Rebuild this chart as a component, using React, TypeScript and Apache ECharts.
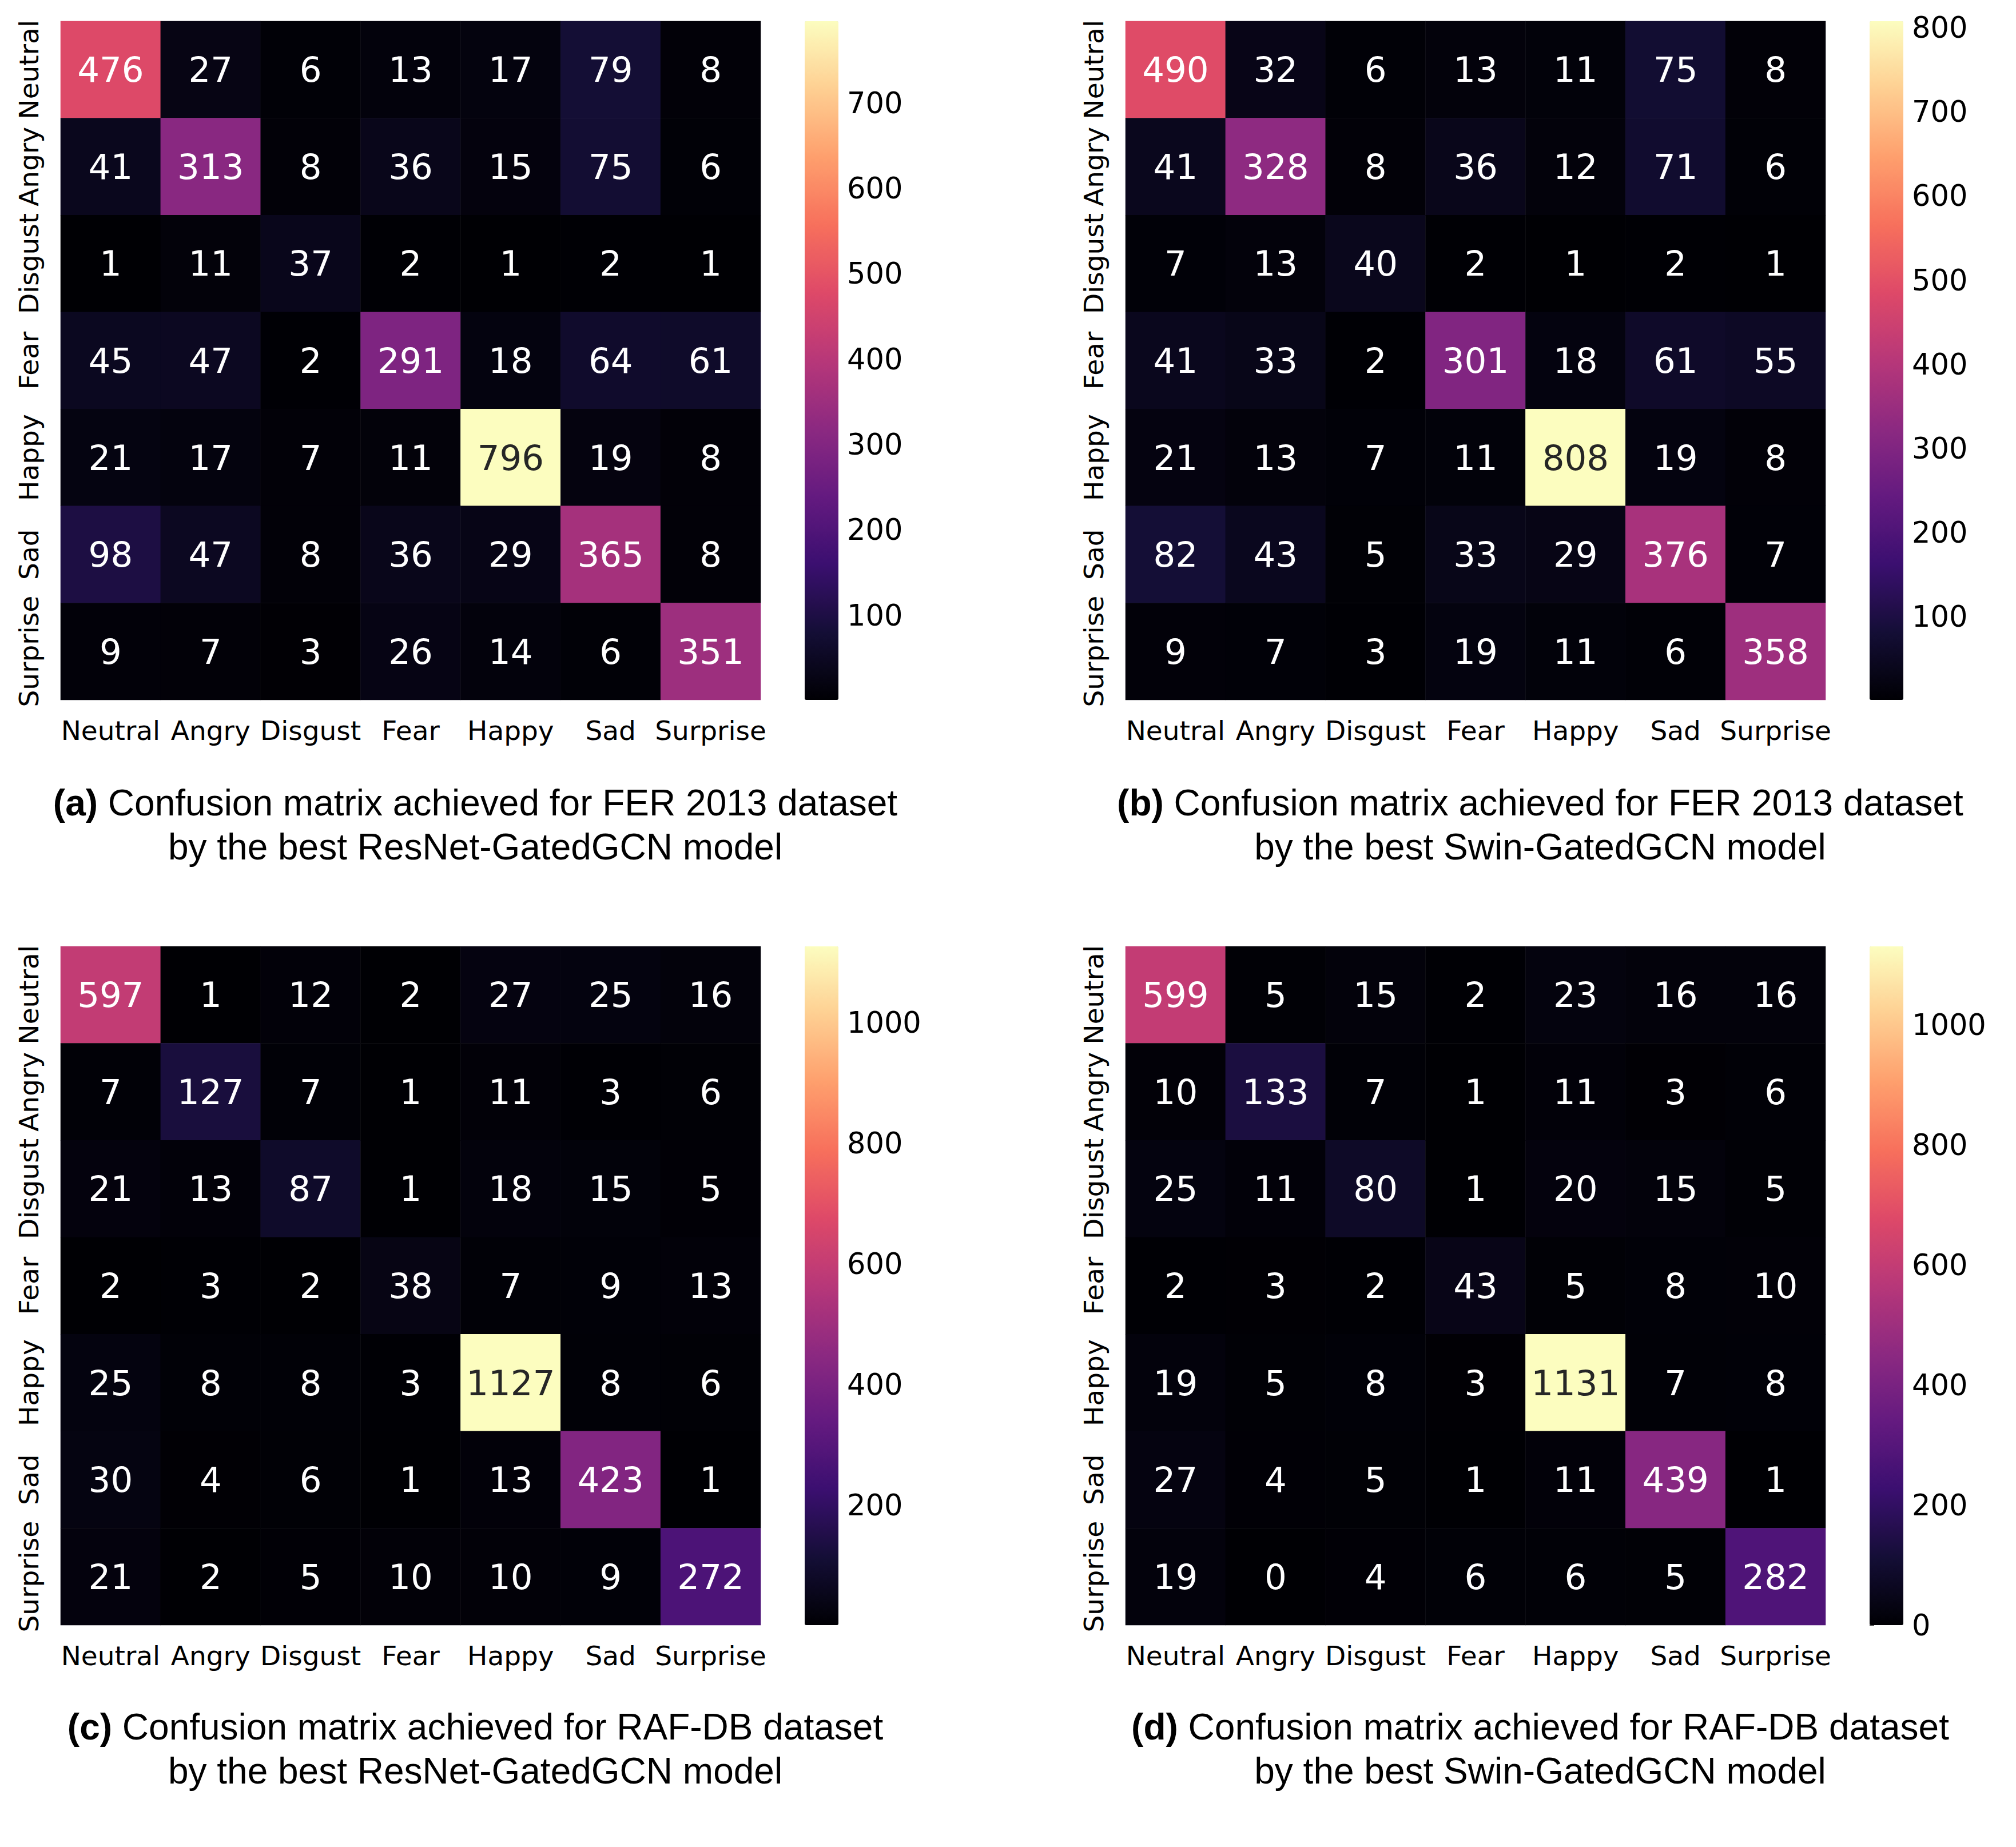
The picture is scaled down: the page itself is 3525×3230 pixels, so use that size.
import React, { useEffect, useRef } from "react";
import * as echarts from "echarts";

const categories = ["Neutral", "Angry", "Disgust", "Fear", "Happy", "Sad", "Surprise"];

// rows = true label (top to bottom), columns = predicted label (left to right)
const matrixA = [
  [476, 27, 6, 13, 17, 79, 8],
  [41, 313, 8, 36, 15, 75, 6],
  [1, 11, 37, 2, 1, 2, 1],
  [45, 47, 2, 291, 18, 64, 61],
  [21, 17, 7, 11, 796, 19, 8],
  [98, 47, 8, 36, 29, 365, 8],
  [9, 7, 3, 26, 14, 6, 351],
];
const matrixB = [
  [490, 32, 6, 13, 11, 75, 8],
  [41, 328, 8, 36, 12, 71, 6],
  [7, 13, 40, 2, 1, 2, 1],
  [41, 33, 2, 301, 18, 61, 55],
  [21, 13, 7, 11, 808, 19, 8],
  [82, 43, 5, 33, 29, 376, 7],
  [9, 7, 3, 19, 11, 6, 358],
];
const matrixC = [
  [597, 1, 12, 2, 27, 25, 16],
  [7, 127, 7, 1, 11, 3, 6],
  [21, 13, 87, 1, 18, 15, 5],
  [2, 3, 2, 38, 7, 9, 13],
  [25, 8, 8, 3, 1127, 8, 6],
  [30, 4, 6, 1, 13, 423, 1],
  [21, 2, 5, 10, 10, 9, 272],
];
const matrixD = [
  [599, 5, 15, 2, 23, 16, 16],
  [10, 133, 7, 1, 11, 3, 6],
  [25, 11, 80, 1, 20, 15, 5],
  [2, 3, 2, 43, 5, 8, 10],
  [19, 5, 8, 3, 1131, 7, 8],
  [27, 4, 5, 1, 11, 439, 1],
  [19, 0, 4, 6, 6, 5, 282],
];

const ticksA = [100, 200, 300, 400, 500, 600, 700];
const ticksB = [100, 200, 300, 400, 500, 600, 700, 800];
const ticksC = [200, 400, 600, 800, 1000];
const ticksD = [0, 200, 400, 600, 800, 1000];

const captionTagA = "(a)";
const captionTagB = "(b)";
const captionTagC = "(c)";
const captionTagD = "(d)";
const captionLine1A = "Confusion matrix achieved for FER 2013 dataset";
const captionLine1B = "Confusion matrix achieved for FER 2013 dataset";
const captionLine1C = "Confusion matrix achieved for RAF-DB dataset";
const captionLine1D = "Confusion matrix achieved for RAF-DB dataset";
const captionLine2A = "by the best ResNet-GatedGCN model";
const captionLine2B = "by the best Swin-GatedGCN model";
const captionLine2C = "by the best ResNet-GatedGCN model";
const captionLine2D = "by the best Swin-GatedGCN model";

// matplotlib "magma" colormap stops
const MAGMA = [
  "#000004", "#140e36", "#3b0f70", "#641a80", "#8c2981", "#b73779",
  "#de4968", "#f7705c", "#fe9f6d", "#fecf92", "#fcfdbf",
];

function hexToRgb(h: string) {
  return [parseInt(h.slice(1, 3), 16), parseInt(h.slice(3, 5), 16), parseInt(h.slice(5, 7), 16)];
}
function magmaAt(t: number) {
  const tt = Math.max(0, Math.min(1, t)) * (MAGMA.length - 1);
  const i = Math.min(MAGMA.length - 2, Math.floor(tt));
  const f = tt - i;
  const a = hexToRgb(MAGMA[i]);
  const b = hexToRgb(MAGMA[i + 1]);
  return [0, 1, 2].map((k) => a[k] + (b[k] - a[k]) * f);
}
function luminance(rgb: number[]) {
  const lin = rgb.map((c) => {
    const v = c / 255;
    return v <= 0.03928 ? v / 12.92 : Math.pow((v + 0.055) / 1.055, 2.4);
  });
  return 0.2126 * lin[0] + 0.7152 * lin[1] + 0.0722 * lin[2];
}

const PANELS = [
  { m: matrixA, ticks: ticksA, tag: captionTagA, l1: captionLine1A, l2: captionLine2A, left: 106, top: 37, cbLeft: 1407, capX: 831, capY: 1404 },
  { m: matrixB, ticks: ticksB, tag: captionTagB, l1: captionLine1B, l2: captionLine2B, left: 1968, top: 37, cbLeft: 3269, capX: 2693, capY: 1404 },
  { m: matrixC, ticks: ticksC, tag: captionTagC, l1: captionLine1C, l2: captionLine2C, left: 106, top: 1655, cbLeft: 1407, capX: 831, capY: 3020 },
  { m: matrixD, ticks: ticksD, tag: captionTagD, l1: captionLine1D, l2: captionLine2D, left: 1968, top: 1655, cbLeft: 3269, capX: 2693, capY: 3020 },
];

const HM_W = 1224;
const HM_H = 1187;
const CB_W = 59;
const FONT = "DejaVu Sans";
const CAP_FONT = "Liberation Sans, Arial, sans-serif";
const CAP_SIZE = 64;

export default function App() {
  const ref = useRef<HTMLDivElement>(null);
  useEffect(() => {
    if (!ref.current) return;
    const chart = echarts.init(ref.current, undefined, { renderer: "svg" });
    const grid: any[] = [];
    const xAxis: any[] = [];
    const yAxis: any[] = [];
    const series: any[] = [];
    const visualMap: any[] = [];
    const graphic: any[] = [];

    PANELS.forEach((p, i) => {
      const flat = p.m.flat();
      const vmin = Math.min(...flat);
      const vmax = Math.max(...flat);
      grid.push({ left: p.left, top: p.top, width: HM_W, height: HM_H, containLabel: false });
      grid.push({ left: p.cbLeft, top: p.top, width: CB_W, height: HM_H, containLabel: false });
      xAxis.push({
        type: "category",
        gridIndex: 2 * i,
        data: categories,
        position: "bottom",
        axisLine: { show: false },
        axisTick: { show: false },
        splitLine: { show: false },
        axisLabel: { fontSize: 47, color: "#000", fontFamily: FONT, margin: 53, verticalAlign: "middle", interval: 0 },
      });
      xAxis.push({ type: "value", gridIndex: 2 * i + 1, show: false, min: 0, max: 1 });
      yAxis.push({
        type: "category",
        gridIndex: 2 * i,
        data: categories,
        inverse: true,
        axisLine: { show: false },
        axisTick: { show: false },
        splitLine: { show: false },
        axisLabel: { fontSize: 47, color: "#000", fontFamily: FONT, rotate: 90, margin: 56, verticalAlign: "middle", align: "center", interval: 0 },
      });
      yAxis.push({
        type: "value",
        gridIndex: 2 * i + 1,
        position: "right",
        min: vmin,
        max: vmax,
        axisLine: { show: false },
        splitLine: { show: false },
        axisTick: { show: true, length: 8, lineStyle: { color: "#000", width: 1.5 }, customValues: p.ticks },
        axisLabel: {
          show: true,
          customValues: p.ticks,
          fontSize: 51,
          color: "#000",
          fontFamily: FONT,
          margin: 15,
          formatter: (v: number) => String(v),
        },
      });
      const data: any[] = [];
      p.m.forEach((row, r) => {
        row.forEach((v, c) => {
          const lum = luminance(magmaAt((v - vmin) / (vmax - vmin)));
          data.push({ value: [c, r, v], label: { color: lum > 0.408 ? "#262626" : "#ffffff" } });
        });
      });
      series.push({
        type: "heatmap",
        xAxisIndex: 2 * i,
        yAxisIndex: 2 * i,
        data,
        label: {
          show: true,
          fontSize: 61,
          fontFamily: FONT,
          formatter: (q: any) => String(q.value[2]),
        },
        emphasis: { disabled: true },
      });
      visualMap.push({
        type: "continuous",
        seriesIndex: i,
        min: vmin,
        max: vmax,
        dimension: 2,
        inRange: { color: MAGMA },
        calculable: false,
        hoverLink: false,
        orient: "vertical",
        left: p.cbLeft,
        top: p.top,
        itemWidth: CB_W,
        itemHeight: HM_H,
        padding: 0,
        showLabel: false,
      });
      graphic.push({
        type: "text",
        x: p.capX,
        y: p.capY,
        style: {
          text: "{b|" + p.tag + "} " + p.l1,
          fontSize: CAP_SIZE,
          fontFamily: CAP_FONT,
          fill: "#000",
          align: "center",
          verticalAlign: "middle",
          rich: { b: { fontWeight: "bold", fontSize: CAP_SIZE, fontFamily: CAP_FONT } },
        },
      });
      graphic.push({
        type: "text",
        x: p.capX,
        y: p.capY + 77,
        style: {
          text: p.l2,
          fontSize: CAP_SIZE,
          fontFamily: CAP_FONT,
          fill: "#000",
          align: "center",
          verticalAlign: "middle",
        },
      });
    });

    chart.setOption({
      animation: false,
      backgroundColor: "#ffffff",
      grid,
      xAxis,
      yAxis,
      visualMap,
      series,
      graphic,
    });
    return () => chart.dispose();
  }, []);
  return <div ref={ref} style={{ position: "absolute", left: 0, top: 0, width: 3525, height: 3230 }} />;
}
